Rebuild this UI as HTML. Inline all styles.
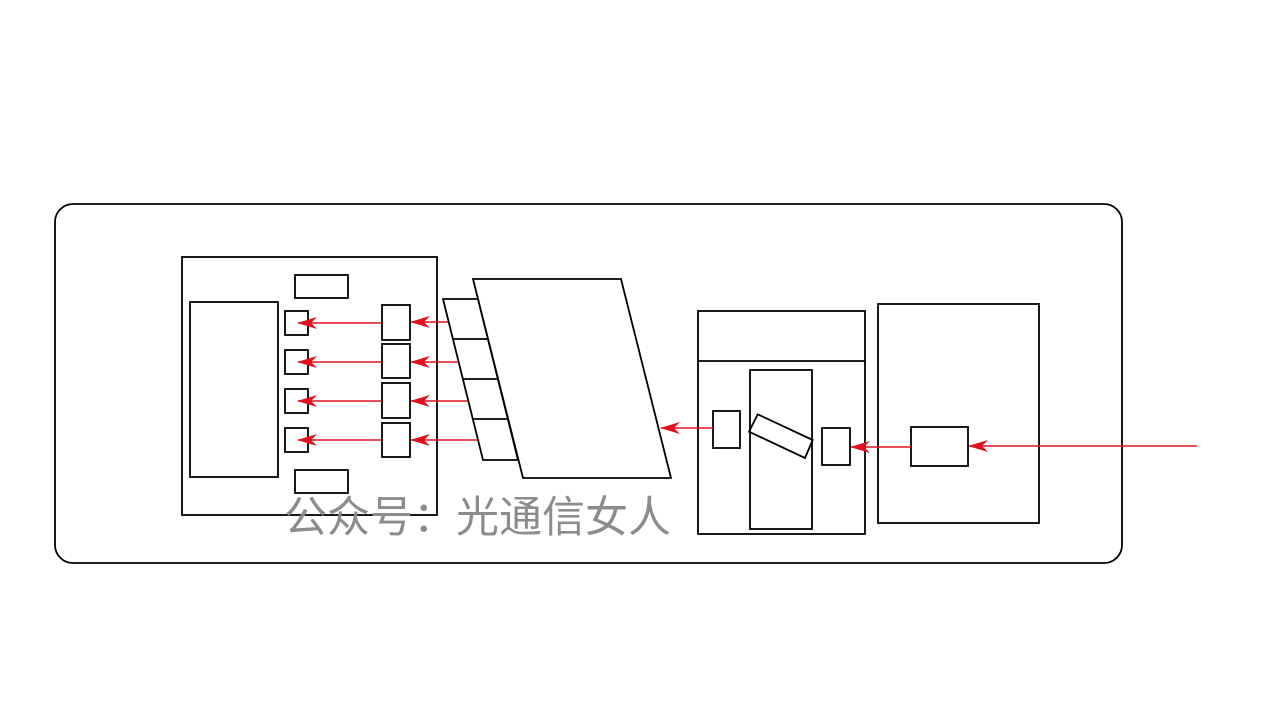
<!DOCTYPE html>
<html><head><meta charset="utf-8"><style>body{margin:0;background:#fff}svg{display:block}</style></head><body>
<svg width="1280" height="720" xmlns="http://www.w3.org/2000/svg">
<defs><marker id="a" viewBox="0 0 20 12" refX="19" refY="6" markerWidth="20" markerHeight="12" markerUnits="userSpaceOnUse" orient="auto"><path d="M0,0 L20,6 L0,12 L6,6 Z" fill="#e0101e"/></marker></defs>
<g fill="none" stroke="#000" stroke-width="1.8">
<rect x="55" y="204" width="1067" height="359" rx="18"/>
<rect x="182" y="257" width="255" height="258"/>
<rect x="190" y="302" width="88" height="175"/>
<rect x="295" y="275" width="53" height="23"/>
<rect x="295" y="470" width="53" height="23"/>
<rect x="285" y="311" width="23" height="24"/>
<rect x="285" y="350" width="23" height="24"/>
<rect x="285" y="389" width="23" height="24"/>
<rect x="285" y="428" width="23" height="24"/>
<rect x="382" y="305" width="28" height="35"/>
<rect x="382" y="344" width="28" height="34"/>
<rect x="382" y="383" width="28" height="35"/>
<rect x="382" y="423" width="28" height="34"/>
<polygon points="443,299 478,299 518,460 483,460" fill="#fff"/>
<line x1="453" y1="339" x2="488" y2="339"/>
<line x1="463" y1="379" x2="498" y2="379"/>
<line x1="473" y1="419" x2="508" y2="419"/>
<polygon points="473,279 621,279 671,478 523,478" fill="#fff"/>
<rect x="698" y="311" width="167" height="223"/>
<line x1="698" y1="361" x2="865" y2="361"/>
<rect x="750" y="370" width="62" height="159"/>
<rect x="713" y="411" width="27" height="37"/>
<polygon points="757.7,414.3 812.7,440 805,458 749,431.7"/>
<rect x="822" y="428" width="28" height="37"/>
<rect x="878" y="304" width="161" height="219"/>
<rect x="911" y="427" width="57" height="39"/>
</g>
<g stroke="#e0101e" stroke-width="1.6" marker-end="url(#a)">
<line x1="382" y1="323" x2="298" y2="323"/>
<line x1="382" y1="362" x2="298" y2="362"/>
<line x1="382" y1="401" x2="298" y2="401"/>
<line x1="382" y1="440" x2="298" y2="440"/>
<line x1="448" y1="322" x2="411" y2="322"/>
<line x1="458" y1="362" x2="411" y2="362"/>
<line x1="468" y1="401" x2="411" y2="401"/>
<line x1="478" y1="440" x2="411" y2="440"/>
<line x1="713" y1="428" x2="661" y2="428"/>
<line x1="911" y1="447" x2="851" y2="447"/>
<line x1="1197" y1="446" x2="969" y2="446"/>
</g>
<text x="284" y="532" font-family="'Liberation Sans','Noto Sans CJK SC',sans-serif" font-size="43" fill="#8c8c8c">公众号：光通信女人</text>
</svg>
</body></html>
